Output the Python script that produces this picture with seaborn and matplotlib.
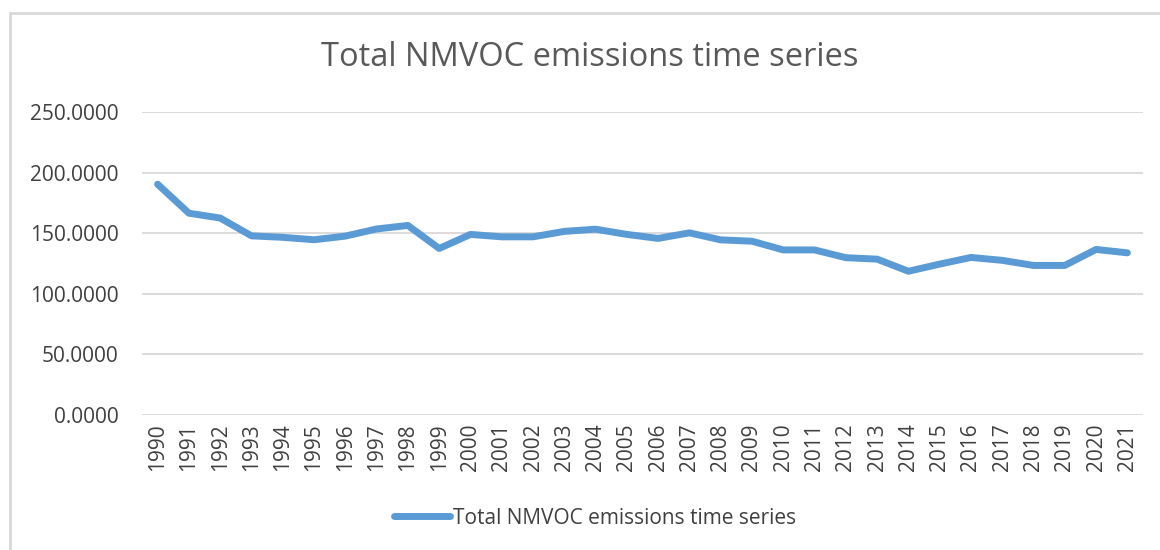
import matplotlib
matplotlib.use('Agg')
import matplotlib.pyplot as plt
import pandas as pd
import seaborn as sns
from matplotlib.patches import Rectangle

# data
years = list(range(1990, 2022))
emissions = [190.4, 166.5, 162.5, 147.8, 146.6, 144.6, 147.6, 153.5, 156.4, 137.4,
             149.0, 147.0, 147.0, 151.5, 153.3, 149.0, 145.7, 150.3, 144.5, 143.4,
             136.2, 136.2, 129.8, 128.6, 118.6, 124.5, 130.0, 127.6, 123.4, 123.4,
             136.6, 133.8]
series_name = 'Total NMVOC emissions time series'
yticks = [0, 50, 100, 150, 200, 250]

df = pd.DataFrame({'year': years, 'value': emissions})

sns.set_theme(style='white')
plt.rcParams['font.family'] = ['Open Sans', 'DejaVu Sans']

fig = plt.figure(figsize=(11.6, 5.5), dpi=100)
ax = fig.add_axes([142 / 1160, 135 / 550, 1001 / 1160, 303 / 550])

sns.lineplot(data=df, x='year', y='value', ax=ax, color='#5B9BD5', linewidth=5,
             solid_capstyle='round', solid_joinstyle='round', label=series_name,
             legend=False)

ax.set_xlim(1989.5, 2021.5)
ax.set_ylim(0, 250)
ax.set_yticks(yticks)
ax.set_yticklabels([f'{v:.4f}' for v in yticks], fontsize=15, color='#404040')
ax.set_xticks(years)
ax.set_xticklabels([str(y) for y in years], rotation=90, fontsize=15, color='#404040')
ax.tick_params(axis='y', length=0, pad=17)
ax.tick_params(axis='x', length=0, pad=6)
ax.set_xlabel('')
ax.set_ylabel('')
ax.grid(axis='y', color='#D9D9D9', linewidth=1.3)
for s in ['top', 'right', 'left', 'bottom']:
    ax.spines[s].set_visible(False)

fig.text(590 / 1160, 1 - 57 / 550, series_name, ha='center', va='center',
         fontsize=23.5, color='#595959')

handles, labels = ax.get_legend_handles_labels()
fig.legend(handles, labels, loc='center', bbox_to_anchor=(595 / 1160, 1 - 518 / 550),
           frameon=False, fontsize=15, handlelength=2.7, handletextpad=0.15,
           labelcolor='#404040')

# outer chart border like the original
fig.patches.append(Rectangle((10 / 1160, -0.1), 1.2, 1.1 - 13 / 550, transform=fig.transFigure,
                             fill=False, edgecolor='#D9D9D9', linewidth=2))

fig.savefig('out.png', dpi=100)
